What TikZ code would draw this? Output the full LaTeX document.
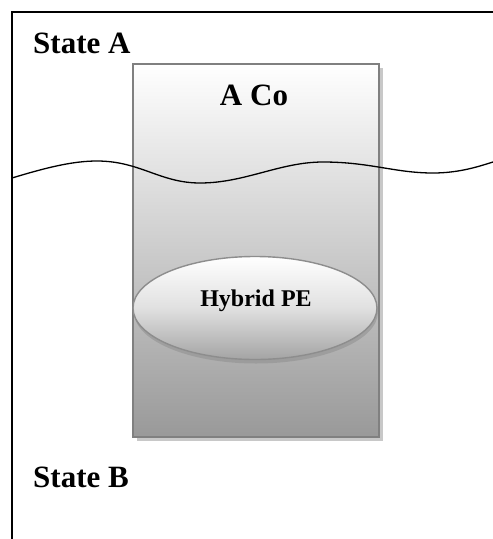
\documentclass[tikz,border=0pt]{standalone}
\usepackage{fontspec}
\setmainfont{Liberation Serif}
\usetikzlibrary{shapes.geometric}
\definecolor{boxline}{HTML}{808080}
\definecolor{boxbottom}{HTML}{999999}
\definecolor{shadowgray}{HTML}{C8C8C8}
\definecolor{ellbottom}{HTML}{A4A4A4}
\tikzset{
  statelabel/.style={anchor=base west,inner sep=0pt,font=\fontsize{31}{31}\selectfont\bfseries},
  colabel/.style={anchor=base,inner sep=0pt,font=\fontsize{31}{31}\selectfont\bfseries},
  pelabel/.style={anchor=base,inner sep=0pt,font=\fontsize{24}{24}\selectfont\bfseries},
  cobox/.style={rectangle,draw=boxline,line width=1.6pt,minimum width=246pt,minimum height=373pt,inner sep=0pt,top color=white,bottom color=boxbottom},
  coshadow/.style={rectangle,fill=shadowgray,minimum width=246pt,minimum height=373pt,inner sep=0pt},
  peell/.style={ellipse,draw=boxline!90,line width=1.4pt,minimum width=244pt,minimum height=103pt,inner sep=0pt,top color=white,bottom color=ellbottom,middle color=white!88!black},
  peshadow/.style={ellipse,fill=black!45,opacity=0.5,minimum width=244pt,minimum height=103pt,inner sep=0pt},
  frameline/.style={line width=1.5pt,black},
  waveline/.style={line width=1.3pt,black}
}
\begin{document}
\begin{tikzpicture}[x=1pt,y=-1pt]
\path[use as bounding box] (0,0) rectangle (493,539);
% frame
\coordinate (fbl) at (12,539);
\coordinate (ftl) at (12,12);
\coordinate (ftr) at (493,12);
\draw[frameline] (fbl) -- (ftl) -- (ftr);
% company box
\node[coshadow] (coshad) at (260,254.5) {};
\node[cobox] (co) at (256,250.5) {};
% wave
\coordinate (w0) at (12,178);
\coordinate (w1) at (97,161);
\coordinate (w2) at (200,183);
\coordinate (w3) at (323,162);
\coordinate (w4) at (433,173);
\coordinate (w5) at (493,162);
\draw[waveline] (w0) .. controls (45,168) and (72,161) .. (w1)
  .. controls (140,161) and (160,183) .. (w2)
  .. controls (245,183) and (280,162) .. (w3)
  .. controls (370,162) and (395,173) .. (w4)
  .. controls (460,173) and (480,166) .. (w5);
% ellipse
\node[peshadow] (peshad) at (256,312) {};
\node[peell] (pe) at (255,308) {};
% texts
\node[statelabel] (sa) at (33,53) {State A};
\node[statelabel] (sb) at (33,487) {State B};
\node[colabel] (cot) at (254,105) {A Co};
\node[pelabel] (pet) at (256,306) {Hybrid PE};
\end{tikzpicture}
\end{document}
